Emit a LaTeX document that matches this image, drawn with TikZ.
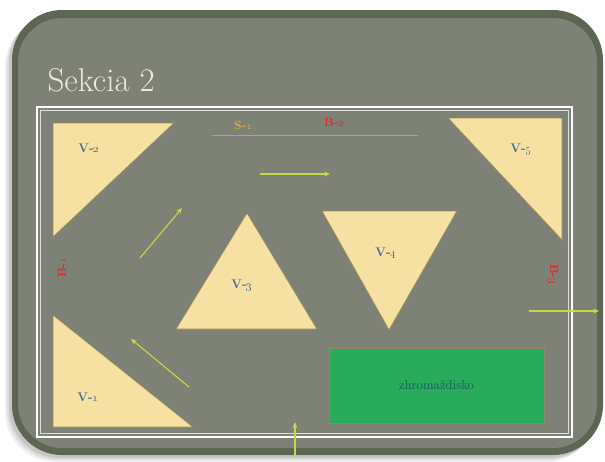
\documentclass[tikz,border=0pt]{standalone}
\usepackage{tikz}
\usetikzlibrary{arrows.meta,positioning}
\definecolor{slate}{RGB}{126,129,117}
\definecolor{rim}{RGB}{92,102,82}
\definecolor{sand}{RGB}{246,224,162}
\definecolor{sandedge}{RGB}{150,142,92}
\definecolor{lime}{RGB}{200,214,72}
\definecolor{mossline}{RGB}{170,172,96}
\definecolor{gold}{RGB}{214,178,58}
\definecolor{brick}{RGB}{224,38,38}
\definecolor{steel}{RGB}{64,110,146}
\definecolor{field}{RGB}{40,172,92}
\definecolor{fieldtext}{RGB}{24,84,88}
\definecolor{titlecream}{RGB}{236,234,222}

\begin{document}
\begin{tikzpicture}[x=1pt,y=-1pt,
    tri/.style={fill=sand, draw=sandedge, line width=0.8pt, line join=miter},
    vlbl/.style={text=steel, font=\fontsize{12.5}{14}\selectfont\bfseries},
    tag/.style={font=\fontsize{12}{14}\selectfont\bfseries},
    arr/.style={-{Stealth[length=6pt,width=5pt]}, lime, line width=1.1pt}
]
    \useasboundingbox (0,0) rectangle (605,461);

    % card with soft shadow
    \foreach \s/\o in {7/0.06,5/0.08,3/0.10}
        \fill[black, opacity=\o, rounded corners=50pt] (12-\s,10+\s) rectangle (603-\s,455+\s);
    \fill[rim, rounded corners=50pt] (12,10) rectangle (603,455);
    \fill[slate, rounded corners=44pt] (18,18) rectangle (597,448);

    \node[text=titlecream, font=\fontsize{33}{36}\selectfont, anchor=base west] (title) at (44,91) {Sekcia 2};

    % frame
    \draw[white, line width=1.6pt] (37,107) rectangle (572,437);
    \draw[white!75!slate, line width=0.6pt] (40.5,110.5) rectangle (568.5,433.5);

    % triangles
    \filldraw[tri] (53,123) -- (174,123) -- (53,237) -- cycle;
    \filldraw[tri] (448,118) -- (562,118) -- (562,240) -- cycle;
    \filldraw[tri] (247,213) -- (317,329) -- (176,329) -- cycle;
    \filldraw[tri] (322,211) -- (457,211) -- (389,330) -- cycle;
    \filldraw[tri] (53,315) -- (193,427) -- (53,427) -- cycle;

    \node[vlbl] (v2) at (89,148) {V-\oldstylenums{2}};
    \node[vlbl] (v5) at (521,149) {V-\oldstylenums{5}};
    \node[vlbl] (v3) at (242,285) {V-\oldstylenums{3}};
    \node[vlbl] (v4) at (386,253) {V-\oldstylenums{4}};
    \node[vlbl] (v1) at (88,397) {V-\oldstylenums{1}};

    % assembly point
    \node[fill=field, draw=sandedge!70!slate, line width=1pt, minimum width=215pt, minimum height=75pt,
          text=fieldtext, font=\fontsize{13}{15}\selectfont] (zhr) at (436.5,385.5) {zhromaždisko};

    % street and borders
    \coordinate (s1a) at (212,135);
    \coordinate (s1b) at (418,135);
    \draw[mossline, line width=0.6pt] (s1a) -- (s1b);
    \node[tag, text=gold] (s1) at (243,125) {S-\oldstylenums{1}};
    \node[tag, text=brick] (b2) at (334,122) {B-\oldstylenums{2}};
    \node[tag, text=brick, rotate=90] (b1) at (62,268) {B-\oldstylenums{1}};
    \node[tag, text=brick, rotate=-90] (b3) at (553,274) {B-\oldstylenums{3}};

    % escape arrows
    \coordinate (a1s) at (260,174);  \coordinate (a1e) at (330,174);
    \coordinate (a2s) at (140,258);  \coordinate (a2e) at (182,208);
    \coordinate (a3s) at (189,387);  \coordinate (a3e) at (131,339);
    \coordinate (a4s) at (295,455);  \coordinate (a4e) at (295,422);
    \coordinate (a5s) at (529,311);  \coordinate (a5e) at (599,311);
    \draw[arr] (a1s) -- (a1e);
    \draw[arr] (a2s) -- (a2e);
    \draw[arr] (a3s) -- (a3e);
    \draw[arr] (a4s) -- (a4e);
    \draw[arr] (a5s) -- (a5e);
\end{tikzpicture}
\end{document}
